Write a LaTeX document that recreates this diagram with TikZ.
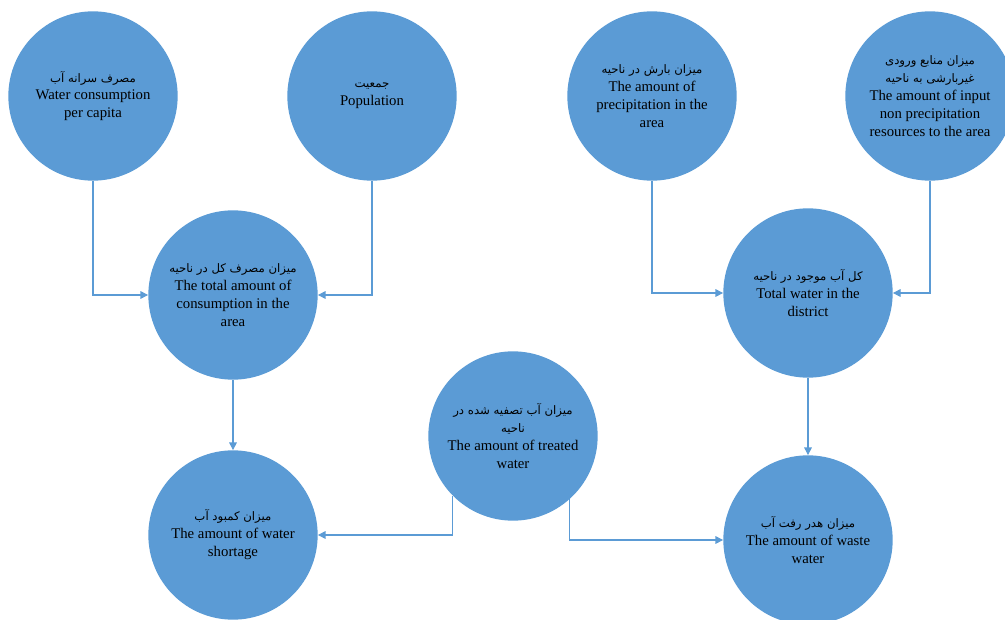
\documentclass[tikz,border=0pt]{standalone}
\usepackage{fontspec}
\setmainfont{Liberation Serif}
\newfontfamily\persianfont[Script=Arabic]{DejaVu Sans}
\TeXXeTstate=1
\usetikzlibrary{arrows.meta}
\usepackage{xcolor}
\definecolor{waterblue}{RGB}{91,155,213}
\newcommand{\fa}[1]{{\persianfont\fontsize{10}{15}\selectfont\beginR #1\endR}}

\begin{document}
\begin{tikzpicture}[x=0.03cm, y=-0.03cm,
 stock/.style={circle, fill=waterblue, minimum size=5.08cm, inner sep=0pt, align=center, font=\fontsize{12.6}{15.3}\selectfont},
 conn/.style={waterblue, line width=.9pt, -{Triangle[width=6.5pt,length=6.5pt]}}]
\useasboundingbox (0,0) rectangle (1005,620);
% top row
\node[stock] (c1) at (93,96)  {\fa{مصرف سرانه آب}\\Water consumption\\per capita};
\node[stock] (c2) at (372,96) {\fa{جمعیت}\\Population};
\node[stock] (c3) at (652,96) {\fa{میزان بارش در ناحیه}\\The amount of\\precipitation in the\\area};
\node[stock] (c4) at (930,96) {\fa{میزان منابع ورودی}\\\fa{غیربارشی به ناحیه}\\The amount of input\\non precipitation\\resources to the area};
% middle
\node[stock] (c5) at (233,295) {\fa{میزان مصرف کل در ناحیه}\\The total amount of\\consumption in the\\area};
\node[stock] (c6) at (808,293) {\fa{کل آب موجود در ناحیه}\\Total water in the\\district};
\node[stock] (c7) at (513,436) {\fa{میزان آب تصفیه شده در}\\\fa{ناحیه}\\The amount of treated\\water};
% bottom
\node[stock] (c8) at (233,535) {\fa{میزان کمبود آب}\\The amount of water\\shortage};
\node[stock] (c9) at (808,540) {\fa{میزان هدر رفت آب}\\The amount of waste\\water};
% connectors
\foreach \a/\b in {c1/c5, c2/c5, c3/c6, c4/c6}
 \draw[conn] (\a) |- (\b);
\draw[conn] (c5) -- (c8);
\draw[conn] (c6) -- (c9);
\draw[conn] (c7.-135) |- (c8);
\draw[conn] (c7.-48) |- (c9);
\end{tikzpicture}
\end{document}
